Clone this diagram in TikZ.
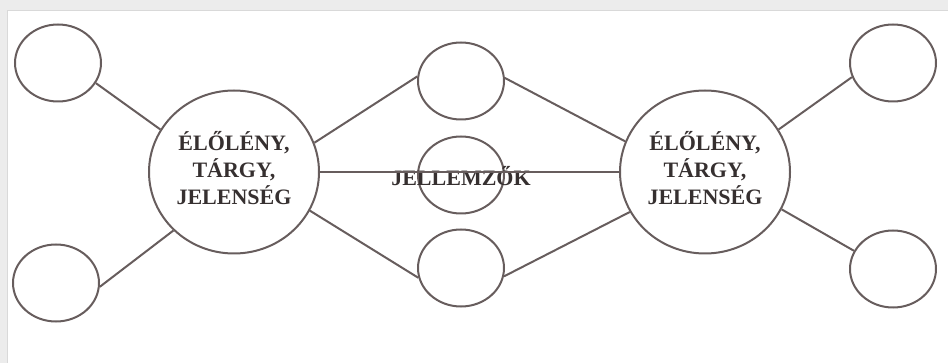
\documentclass[tikz,border=0pt]{standalone}
\usepackage{fontspec}
\setmainfont{Liberation Serif}
\usetikzlibrary{shapes.geometric}

\definecolor{linegray}{HTML}{675D5D}
\definecolor{textgray}{HTML}{363030}
\definecolor{framegray}{HTML}{ECECEC}

\begin{document}
\begin{tikzpicture}[x=1pt, y=-1pt,
    small/.style={draw=linegray, line width=2pt, ellipse, minimum width=86pt, minimum height=77pt, inner sep=0pt},
    big/.style={draw=linegray, line width=2pt, ellipse, minimum width=170pt, minimum height=163pt, inner sep=0pt,
        align=center, text=textgray, font=\fontsize{22}{27}\selectfont\bfseries},
    link/.style={draw=linegray, line width=2pt}]
    \useasboundingbox (0,0) rectangle (948,363);
    % frame
    \fill[framegray] (0,0) rectangle (948,10);
    \fill[framegray] (0,0) rectangle (7,363);
    \draw[gray!30, line width=0.8pt] (7,363) -- (7,10) -- (948,10);

    % main nodes
    \node[big] (objL) at (234,172) {\raisebox{3pt}{\begin{tabular}{@{}c@{}}ÉLŐLÉNY,\\TÁRGY,\\JELENSÉG\end{tabular}}};
    \node[big] (objR) at (705,172) {\raisebox{3pt}{\begin{tabular}{@{}c@{}}ÉLŐLÉNY,\\TÁRGY,\\JELENSÉG\end{tabular}}};

    % small circles
    \node[small] (tl) at (58,63) {};
    \node[small] (bl) at (56,283) {};
    \node[small] (tm) at (461,81) {};
    \node[small, label={[text=textgray, font=\fontsize{22}{27}\selectfont\bfseries, yshift=-1pt]center:JELLEMZŐK}] (mm) at (461,175) {};
    \node[small] (bm) at (461,268) {};
    \node[small] (tr) at (893,63) {};
    \node[small] (br) at (893,269) {};

    % connectors
    \draw[link] (tl.-28) -- (objL.150);
    \draw[link] (bl.-5) -- (objL.224);
    \draw[link] (objL.20) -- (tm.174);
    \draw[link] (objL.-27) -- (bm.193);
    \draw[link] (objL) -- (objR);
    \draw[link] (tm.4) -- (objR.159);
    \draw[link] (bm.-11) -- (objR.208);
    \draw[link] (objR.30) -- (tr.199);
    \draw[link] (objR.-26) -- (br.155);
\end{tikzpicture}
\end{document}
